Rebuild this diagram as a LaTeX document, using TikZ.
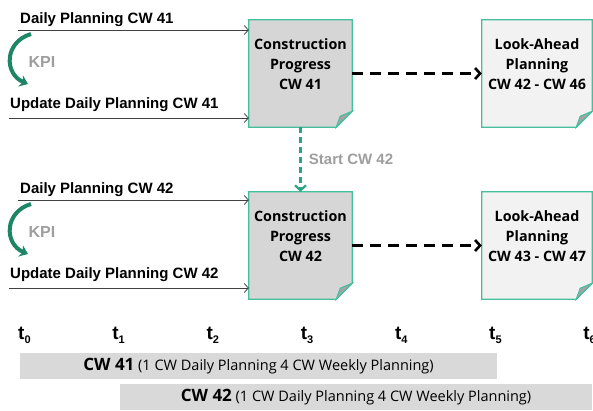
\documentclass[tikz,border=0pt]{standalone}
\usepackage{fontspec}
\setmainfont{Liberation Sans}
\newfontfamily\boxfont{Open Sans}
\usepackage{tikz}
\usetikzlibrary{positioning,arrows.meta,backgrounds}

\definecolor{docteal}{HTML}{45BF9C}
\definecolor{docgray}{HTML}{D6D6D6}
\definecolor{doclight}{HTML}{F2F2F2}
\definecolor{foldgray}{HTML}{A3A3A3}
\definecolor{kpigreen}{HTML}{1E8566}
\definecolor{startgreen}{HTML}{2BA585}
\definecolor{labelgray}{HTML}{9E9E9E}
\definecolor{linegray}{HTML}{404040}
\definecolor{bargray}{HTML}{D9D9D9}

% time stamp t with a lowered index
\newcommand{\tlab}[1]{\textbf{t}\raisebox{-0.45ex}{\fontsize{11}{11}\selectfont\bfseries #1}}

\begin{document}
\begin{tikzpicture}[x=1pt,y=-1pt,
    doc/.style={minimum width=103pt,minimum height=107pt,inner sep=0pt},
    doctext/.style={align=center,inner sep=0pt,font=\boxfont\bfseries\fontsize{14.3}{20}\selectfont},
    flow/.style={->,>={Straight Barb[length=4pt,width=9pt]},linegray,line width=0.8pt},
    flowlabel/.style={anchor=base west,inner sep=0pt,font=\bfseries\fontsize{15}{18}\selectfont},
    kpi/.style={-{Stealth[length=8pt,width=12pt]},kpigreen,line width=4pt},
    kpilabel/.style={labelgray,font=\bfseries\fontsize{16}{18}\selectfont},
    plan/.style={-{Straight Barb[length=5pt,width=11pt]},black,line width=2.6pt,dash pattern=on 11pt off 7pt},
    start/.style={-{Straight Barb[length=5pt,width=11pt]},startgreen,line width=2.2pt,dash pattern=on 6pt off 4pt},
    tick/.style={anchor=base west,inner sep=0pt,font=\fontsize{19}{20}\selectfont},
    bar/.style={fill=bargray,minimum height=26pt,inner sep=0pt,font=\boxfont\fontsize{14.5}{16}\selectfont}]

    \useasboundingbox (0,0) rectangle (593,410);

    % The documents
    \node [doc] (cp1) at (300.5,73.5) {};
    \node [doc, minimum width=110pt] (la1) at (537,73.5) {};
    \node [doc] (cp2) at (300.5,245.5) {};
    \node [doc, minimum width=110pt] (la2) at (537,245.5) {};

    \begin{scope}[on background layer]
    \foreach \n/\f in {cp1/docgray, la1/doclight, cp2/docgray, la2/doclight} {
        \filldraw[fill=\f, draw=docteal, line width=1.2pt]
            (\n.north west) -- (\n.north east) -- ([yshift=16pt]\n.south east)
            -- ([xshift=-16pt]\n.south east) -- (\n.south west) -- cycle;
        \filldraw[fill=foldgray, draw=docteal, line width=1pt]
            ([yshift=16pt]\n.south east) -- ([xshift=-16pt]\n.south east)
            -- ([xshift=-12pt,yshift=11pt]\n.south east) -- cycle;
    }
    \end{scope}

    \node [doctext] (cp1text) at ([yshift=9.5pt]cp1.center) {Construction\\Progress\\CW 41};
    \node [doctext] (la1text) at ([yshift=9.5pt]la1.center) {Look-Ahead\\Planning\\CW 42 - CW 46};
    \node [doctext] (cp2text) at ([yshift=9.5pt]cp2.center) {Construction\\Progress\\CW 42};
    \node [doctext] (la2text) at ([yshift=9.5pt]la2.center) {Look-Ahead\\Planning\\CW 43 - CW 47};

    % Daily planning inputs and KPI loop
    \foreach \w/\c/\dy in {41/cp1/0, 42/cp2/170} {
        \coordinate (daily\w) at (18,30+\dy);
        \coordinate (update\w) at (9,118+\dy);
        \node [flowlabel] (daily\w lab) at (20,23+\dy) {Daily Planning CW \w};
        \node [flowlabel] (update\w lab) at (10,108+\dy) {Update Daily Planning CW \w};
        \draw [flow] (daily\w) -- (daily\w -| \c.west);
        \draw [flow] (update\w) -- (update\w -| \c.west);
        \coordinate (kpia\w) at (31,34+\dy);
        \coordinate (kpib\w) at (28,84+\dy);
        \draw [kpi] (kpia\w) .. controls (4,42+\dy) and (4,74+\dy) .. (kpib\w);
        \node [kpilabel] (kpi\w) at (42,62+\dy) {KPI};
    }

    % Planning edges
    \draw [plan] (cp1.east) -- (la1.west);
    \draw [plan] (cp2.east) -- (la2.west);
    \draw [start] (cp1.south) -- node[right, xshift=4pt, kpilabel, font=\bfseries\fontsize{15}{18}\selectfont] (startlab) {Start CW 42} (cp2.north);

    % Time axis
    \foreach \i in {0,...,6}
        \node [tick] (t\i) at (18+94.2*\i,339) {\tlab{\i}};

    % Planning horizons
    \node [bar, minimum width=477pt] (cw41) at (258.5,366) {{\bfseries\fontsize{17}{18}\selectfont CW 41} (1 CW Daily Planning 4 CW Weekly Planning)};
    \node [bar, minimum width=472pt] (cw42) at (356,397) {{\bfseries\fontsize{17}{18}\selectfont CW 42} (1 CW Daily Planning 4 CW Weekly Planning)};

\end{tikzpicture}
\end{document}
